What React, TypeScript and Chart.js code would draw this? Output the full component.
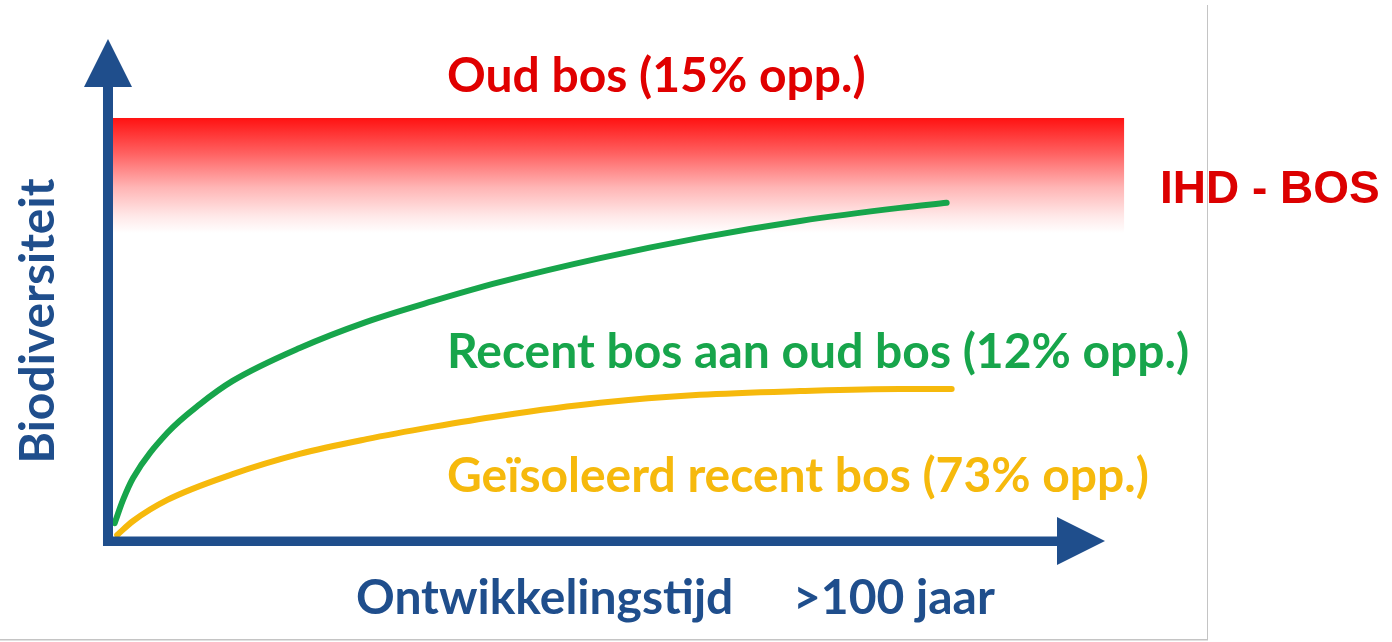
import React, { useEffect, useRef } from "react";
import { Chart, registerables } from "chart.js";

Chart.register(...registerables);

// Development time (0..100 = ">100 jaar") and biodiversity index (0..100 = old forest level)
const greenTime = [0.2, 1.2, 2.4, 6.5, 10.4, 14.3, 22.3, 30.3, 38.2, 46.2, 58.2, 70.1, 82.1, 94.0, 99.6];
const greenBio = [4.0, 9.5, 14.7, 25.4, 32.2, 37.7, 45.5, 51.7, 56.6, 61.1, 66.8, 71.6, 75.6, 78.7, 79.9];
const yellowTime = [0.5, 2.4, 6.5, 14.3, 22.3, 30.3, 38.2, 46.2, 58.2, 70.1, 82.1, 94.0, 100.2];
const yellowBio = [1.2, 4.5, 9.5, 15.6, 20.4, 23.9, 26.8, 29.4, 32.5, 34.4, 35.3, 35.8, 35.8];
// old-forest band (time span and biodiversity range)
const bandTime = [-0.2, 120.8];
const bandBio = [72.7, 100];

const labels = {
  oud: "Oud bos (15% opp.)",
  ihd: "IHD - BOS",
  recent: "Recent bos aan oud bos (12% opp.)",
  iso: "Geïsoleerd recent bos (73% opp.)",
  yTitle: "Biodiversiteit",
  xTitle: "Ontwikkelingstijd",
  xEnd: ">100 jaar",
};

const BLUE = "#1f4e8c";
const RED = "#e00000";
const GREEN = "#17a54b";
const YELLOW = "#f6b90c";

export default function App() {
  const ref = useRef<HTMLCanvasElement | null>(null);

  useEffect(() => {
    if (!ref.current) return;

    const decor = {
      id: "decor",
      beforeDatasetsDraw(chart: any) {
        const { ctx, scales } = chart;
        const xs = scales.x, ys = scales.y;
        const x0 = xs.getPixelForValue(bandTime[0]);
        const x1 = xs.getPixelForValue(bandTime[1]);
        const y0 = ys.getPixelForValue(bandBio[1]);
        const y1 = ys.getPixelForValue(bandBio[0]);
        const g = ctx.createLinearGradient(0, y0, 0, y1);
        g.addColorStop(0, "rgb(255,18,18)");
        g.addColorStop(0.3, "rgb(255,95,95)");
        g.addColorStop(0.6, "rgb(255,180,180)");
        g.addColorStop(0.85, "rgb(255,232,232)");
        g.addColorStop(1, "rgb(255,255,255)");
        ctx.save();
        ctx.fillStyle = g;
        ctx.fillRect(x0, y0, x1 - x0, y1 - y0);
        ctx.restore();
      },
      afterDraw(chart: any) {
        const { ctx, scales } = chart;
        const xs = scales.x, ys = scales.y;
        const ox = xs.getPixelForValue(0) - 5;
        const oy = ys.getPixelForValue(0) + 1;
        ctx.save();
        // axes
        ctx.fillStyle = BLUE;
        ctx.fillRect(ox - 5, 84, 10, oy + 5 - 84);
        ctx.fillRect(ox - 5, oy - 4.5, 1058 - (ox - 5), 9.5);
        ctx.beginPath();
        ctx.moveTo(ox, 39);
        ctx.lineTo(ox + 24, 87);
        ctx.lineTo(ox - 24, 87);
        ctx.closePath();
        ctx.fill();
        ctx.beginPath();
        ctx.moveTo(1105, oy);
        ctx.lineTo(1057, oy - 24);
        ctx.lineTo(1057, oy + 24);
        ctx.closePath();
        ctx.fill();

        // texts
        ctx.textBaseline = "alphabetic";
        ctx.textAlign = "left";
        ctx.font = "bold 48px Lato";
        ctx.fillStyle = RED;
        ctx.fillText(labels.oud, 447, 92);
        ctx.fillStyle = GREEN;
        ctx.fillText(labels.recent, 447, 368);
        ctx.fillStyle = YELLOW;
        ctx.fillText(labels.iso, 447, 492);
        ctx.fillStyle = BLUE;
        ctx.fillText(labels.xTitle, 356, 614);
        ctx.fillText(labels.xEnd, 793, 614);
        ctx.font = "bold 46px 'Liberation Sans'";
        ctx.fillStyle = "#dc0000";
        ctx.fillText(labels.ihd, 1160, 203);
        ctx.save();
        ctx.translate(54, 321);
        ctx.rotate(-Math.PI / 2);
        ctx.textAlign = "center";
        ctx.font = "bold 48px Lato";
        ctx.fillStyle = BLUE;
        ctx.fillText(labels.yTitle, 0, 0);
        ctx.restore();

        // frame lines of the scan
        ctx.fillStyle = "#c4c4c4";
        ctx.fillRect(1207, 5, 1, 635);
        ctx.fillRect(0, 639, 1208, 1.5);
        ctx.restore();
      },
    };

    const chart = new Chart(ref.current, {
      type: "scatter",
      data: {
        datasets: [
          {
            label: "Recent bos aan oud bos",
            data: greenTime.map((t, i) => ({ x: t, y: greenBio[i] })),
            showLine: true,
            borderColor: GREEN,
            borderWidth: 6,
            pointRadius: 0,
            cubicInterpolationMode: "monotone",
            borderCapStyle: "round",
          },
          {
            label: "Geïsoleerd recent bos",
            data: yellowTime.map((t, i) => ({ x: t, y: yellowBio[i] })),
            showLine: true,
            borderColor: YELLOW,
            borderWidth: 6,
            pointRadius: 0,
            cubicInterpolationMode: "monotone",
            borderCapStyle: "round",
          },
        ],
      },
      options: {
        animation: false,
        responsive: true,
        maintainAspectRatio: false,
        layout: { padding: 0 },
        plugins: { legend: { display: false }, tooltip: { enabled: false } },
        scales: {
          x: { type: "linear", display: false, min: -13.5, max: 152.81 },
          y: { type: "linear", display: false, min: -24.17, max: 127.96 },
        },
      } as any,
      plugins: [decor],
    });
    return () => chart.destroy();
  }, []);

  return (
    <div style={{ position: "absolute", left: 0, top: 0, width: 1392, height: 642, background: "#fff" }}>
      <canvas ref={ref} />
    </div>
  );
}
